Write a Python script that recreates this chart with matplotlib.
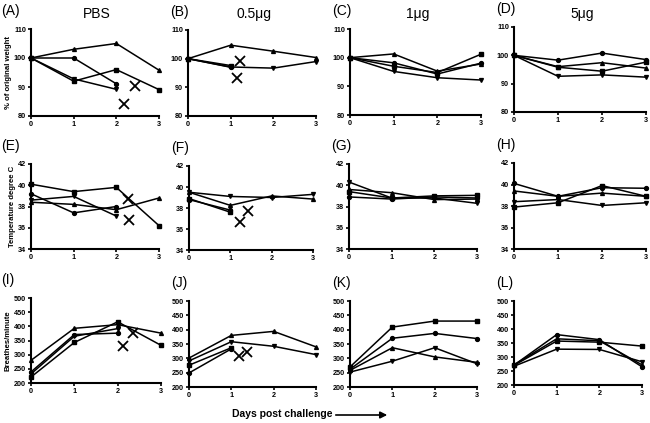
import matplotlib
matplotlib.use('Agg')
import matplotlib.pyplot as plt

plt.rcParams['font.family'] = ['Liberation Sans', 'DejaVu Sans']

days = [0, 1, 2, 3]
groups = ['PBS', '0.5\u03bcg', '1\u03bcg', '5\u03bcg']
letters = ['(A)', '(B)', '(C)', '(D)', '(E)', '(F)', '(G)', '(H)', '(I)', '(J)', '(K)', '(L)']

# weight, % of original (rows: one mouse each; marker, values)
weight = [
    [('^', [100, 103, 105, 95.8]), ('s', [100, 92, 96, 89.1]),
     ('o', [100, 100, 91.1]), ('v', [100, 92.8, 89.2])],
    [('^', [100, 104.7, 102.6, 100.4]), ('v', [100, 97.1, 96.7, 99]),
     ('s', [100, 97.6]), ('o', [100, 97])],
    [('^', [100, 101.3, 95.3, 97.8]), ('o', [100, 98.2, 94.3, 98.1]),
     ('s', [100, 97, 94.8, 101.2]), ('v', [100, 95.2, 93, 92.2])],
    [('o', [100, 98.3, 100.8, 98.5]), ('^', [100, 96, 97.4, 95.5]),
     ('s', [100, 95.8, 94.4, 97.6]), ('v', [100, 92.6, 93.1, 92.3])],
]
weight_dead = [[(2.18, 84.1), (2.43, 90.2)], [(1.21, 99.3), (1.16, 93.4)], [], []]

# temperature, degree C
temp = [
    [('s', [40.1, 39.4, 39.8, 36.2]), ('o', [39.2, 37.4, 38.0]),
     ('v', [38.6, 38.95, 37.1]), ('^', [38.4, 38.2, 37.7, 38.8])],
    [('v', [39.5, 39.1, 39.0, 39.3]), ('^', [39.5, 38.25, 39.15, 38.85]),
     ('s', [38.9, 37.6]), ('o', [38.8, 37.8])],
    [('v', [40.3, 38.8, 38.8, 38.3]), ('^', [39.6, 39.3, 38.65, 38.7]),
     ('s', [39.4, 38.8, 39.0, 39.05]), ('o', [38.9, 38.7, 38.9, 38.8])],
    [('o', [40.1, 38.9, 39.7, 39.65]), ('^', [39.4, 38.9, 39.2, 38.9]),
     ('s', [37.9, 38.3, 39.9, 38.9]), ('v', [38.4, 38.6, 38.05, 38.3])],
]
temp_dead = [[(2.27, 38.7), (2.29, 36.7)], [(1.23, 36.7), (1.43, 37.7)], [], []]

# breathing rate, breaths/minute
breaths = [
    [('^', [280, 393, 406, 376]), ('s', [221, 343, 416, 333]),
     ('o', [239, 371, 376]), ('v', [232, 365, 392])],
    [('^', [301, 380, 394, 340]), ('v', [291, 358, 342, 313]),
     ('s', [276, 337]), ('o', [249, 333])],
    [('s', [270, 409, 430, 430]), ('o', [262, 370, 387, 369]),
     ('^', [258, 337, 305, 286]), ('v', [252, 290, 337, 281])],
    [('o', [271, 380, 362, 265]), ('s', [270, 357, 353, 339]),
     ('^', [272, 365, 358, 272]), ('v', [267, 328, 327, 283])],
]
breaths_dead = [[(2.13, 332), (2.35, 376)], [(1.17, 307), (1.38, 323)], [], []]

rows = [
    (weight, weight_dead, (80, 110), [80, 90, 100, 110], '% of original weight'),
    (temp, temp_dead, (34, 42), [34, 36, 38, 40, 42], 'Temperature degree C'),
    (breaths, breaths_dead, (200, 500), [200, 250, 300, 350, 400, 450, 500], 'Breathes/minute'),
]

# axes boxes in pixels: left, right, top, bottom
boxes = [
    [(31, 159, 29, 116), (188, 316, 30, 116), (350, 481, 29, 115), (514, 646, 27, 112)],
    [(31, 159, 164, 249), (189, 313, 166, 250), (349, 477, 164, 249), (514, 646, 163, 249)],
    [(31, 161, 298, 383), (189, 316, 301, 387), (350, 477, 301, 387), (514, 642, 301, 385)],
]

W, H = 650, 423
fig = plt.figure(figsize=(6.5, 4.23), dpi=100)

for r, (data, dead, ylim, yticks, ylab) in enumerate(rows):
    for c in range(4):
        l, rr, t, b = boxes[r][c]
        ax = fig.add_axes([l / W, 1 - b / H, (rr - l) / W, (b - t) / H])
        for mk, vals in data[c]:
            ax.plot(days[:len(vals)], vals, color='black', lw=1.1, marker=mk,
                    ms=2.8, clip_on=False)
        for xx, yy in dead[c]:
            ax.plot(xx, yy, marker='x', color='black', ms=6.5, mew=1.3, ls='none')
        ax.set_xlim(0, 3)
        ax.set_ylim(*ylim)
        ax.set_xticks(days)
        ax.set_yticks(yticks)
        for s in ['top', 'right']:
            ax.spines[s].set_visible(False)
        for s in ['left', 'bottom']:
            ax.spines[s].set_linewidth(1.5)
        ax.tick_params(length=2.5, width=1.2, pad=1.2, labelsize=5.2)
        for lab in ax.get_xticklabels() + ax.get_yticklabels():
            lab.set_fontweight('bold')
        if c == 0:
            ax.set_ylabel(ylab, fontsize=5.6, fontweight='bold', labelpad=1.5)
        fig.text((l - 30) / W if c == 0 else (l - 18) / W, 1 - (t - 18) / H,
                 letters[r * 4 + c], fontsize=10, va='center', ha='left')
        if r == 0:
            fig.text((l + rr) / 2 / W + 0.003, 1 - 14 / H, groups[c],
                     fontsize=10, ha='center', va='center')

fig.text(282 / W, 1 - 414 / H, 'Days post challenge', fontsize=7.5,
         fontweight='bold', ha='center', va='center')
fig.add_artist(matplotlib.patches.FancyArrowPatch(
    (333 / W, 1 - 415 / H), (390 / W, 1 - 415 / H), transform=fig.transFigure,
    arrowstyle='-|>', mutation_scale=10, color='black', lw=1.2))

fig.savefig('out.png', dpi=100)
